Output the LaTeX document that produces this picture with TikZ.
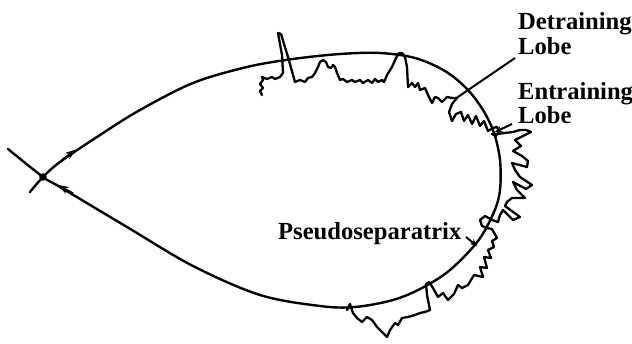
\documentclass[tikz,border=0pt]{standalone}
\usepackage{fontspec}
\setmainfont{Liberation Serif}
\usetikzlibrary{arrows.meta}
\begin{document}
\begin{tikzpicture}[x=1pt,y=-1pt,
  curve/.style={line width=2.4pt, line join=round, line cap=round},
  trace/.style={line width=2.3pt, line join=round, line cap=round},
  lbl/.style={font=\fontsize{24.6}{25}\selectfont\bfseries, anchor=base west, inner sep=0pt},
  tip/.style={-{Stealth[length=11pt,width=7.5pt]}, line width=2pt},
  smalltip/.style={-{Stealth[length=7pt,width=6pt]}, line width=2pt},
  leader/.style={line width=2pt}]
\useasboundingbox (0,0) rectangle (632,344);

% saddle point
\coordinate (saddle) at (43,177);
\coordinate (stub) at (30,192);
\coordinate (inflow) at (8,149);

% separatrix loop
\draw[curve] plot[smooth, tension=0.55] coordinates {(stub) (saddle) (60,162) (100,135) (140,110) (193,83) (247,67) (293,59) (340,54) (380,53) (415,58) (445,71) (467,89) (483,110) (494,133) (500,160) (500,190) (494,212) (478,241) (450,270) (422,288) (393,300) (355,307) (320,306) (260,295) (193,266) (127,227) (60,187) (saddle) (inflow)};

\fill (saddle) circle (3.8pt);

% direction arrows on the branches
\coordinate (up1) at (62,160);
\coordinate (up2) at (76,149.5);
\draw[tip] (up1) -- (up2);
\coordinate (lo1) at (73,193.5);
\coordinate (lo2) at (58,185);
\draw[tip] (lo1) -- (lo2);

% turbulent trace
\draw[trace] plot coordinates {
(262,95) (260,91) (263,88) (260,84) (263,80) (262,77) (267,79) (272,77) (275,79) (280,77) (283,73) (282,55) (278,33) (281,34) (288,57) (295,82) (300,80) (305,82) (308,78) (312,77) (315,73) (318,67) (320,62) (323,60) (326,62) (328,67) (331,68) (333,65) (335,67) (337,73) (340,80) (343,79) (347,82) (352,80) (355,82) (360,80) (363,83) (368,80) (372,83) (375,79) (378,82) (382,80) (384,82) (387,75) (392,67) (396,58) (399,53) (402,53) (405,57) (407,67) (408,87) (412,83) (415,87) (418,83) (420,90) (425,88) (428,95) (432,103) (435,97) (438,98) (442,102) (447,97) (452,98) (457,98) (452,104) (449,112) (452,121) (456,114) (461,112) (464,121) (468,115) (472,124) (476,116) (480,126) (484,121) (488,131) (493,128) (497,127) (499,131) (496,136) (492,134) (497,134) (505,133) (513,132) (520,130) (526,130) (531,132) (515,140) (521,146) (513,151) (522,156) (528,161) (527,167) (512,163) (515,170) (520,177) (532,185) (526,189) (513,182) (517,190) (525,198) (512,198) (507,202) (505,206) (520,217) (513,220) (503,210) (500,215) (498,222) (492,220) (485,216) (480,220) (482,226) (487,228) (492,229) (497,238) (492,241) (494,247) (488,250) (491,258) (484,257) (487,268) (480,267) (483,277) (474,275) (468,285) (462,288) (458,285) (454,294) (448,300) (443,293) (438,297) (433,288) (429,282) (426,284) (427,295) (430,310) (425,312) (420,313) (415,315) (408,317) (402,318) (398,325) (395,323) (390,330) (387,337) (382,332) (377,327) (372,320) (367,317) (362,322) (357,318) (353,313) (350,304) (347,310)};

% labels
\node[lbl] (det1) at (518,30) {Detraining};
\node[lbl] (det2) at (518,55) {Lobe};
\node[lbl] (ent1) at (518,100) {Entraining};
\node[lbl] (ent2) at (518,124) {Lobe};
\node[lbl] (pseudo) at (278,240) {Pseudoseparatrix};

% leaders
\coordinate (detstart) at (515,58);
\coordinate (detend) at (455,99);
\draw[leader] (detstart) -- (detend);
\coordinate (entstart) at (512,124);
\coordinate (entend) at (495,132);
\draw[smalltip] (entstart) -- (entend);
\coordinate (psestart) at (466,237);
\coordinate (pseend) at (477,246);
\draw[smalltip] (psestart) -- (pseend);
\end{tikzpicture}
\end{document}
